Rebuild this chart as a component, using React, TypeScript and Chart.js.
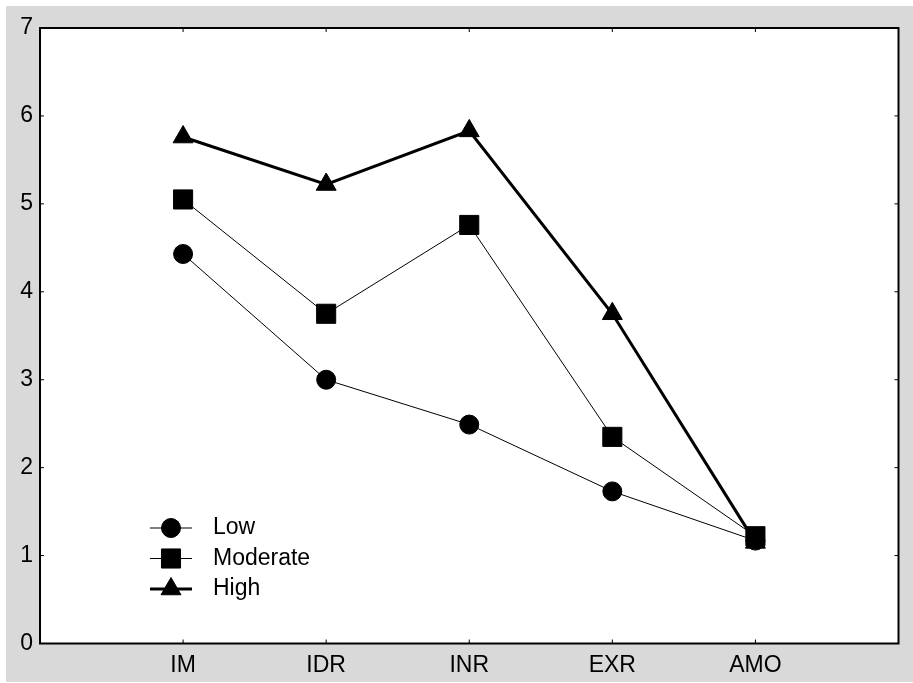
import React, { useEffect, useRef } from 'react';
import { Chart, registerables } from 'chart.js';

Chart.register(...registerables);

const categories = ['IM', 'IDR', 'INR', 'EXR', 'AMO'];
const seriesNames = ['Low', 'Moderate', 'High'];
const lowValues = [4.43, 3.0, 2.49, 1.73, 1.17];
const moderateValues = [5.05, 3.75, 4.76, 2.35, 1.22];
const highValues = [5.76, 5.22, 5.83, 3.75, 1.15];
const yTickValues = [0, 1, 2, 3, 4, 5, 6, 7];

const FONT = '"Liberation Sans", Arial, Helvetica, sans-serif';

function drawMarker(ctx: CanvasRenderingContext2D, style: string, x: number, y: number, r: number) {
  ctx.beginPath();
  if (style === 'circle') {
    ctx.arc(x, y, r, 0, Math.PI * 2);
  } else if (style === 'rect') {
    const s = Math.SQRT1_2 * r;
    ctx.rect(x - s, y - s, 2 * s, 2 * s);
  } else {
    let rad = 0;
    ctx.moveTo(x + Math.sin(rad) * r, y - Math.cos(rad) * r);
    rad += (2 * Math.PI) / 3;
    ctx.lineTo(x + Math.sin(rad) * r, y - Math.cos(rad) * r);
    rad += (2 * Math.PI) / 3;
    ctx.lineTo(x + Math.sin(rad) * r, y - Math.cos(rad) * r);
    ctx.closePath();
  }
  ctx.fill();
  ctx.stroke();
}

const framePlugin = {
  id: 'frame',
  beforeDraw(chart: any) {
    const { ctx, chartArea: a } = chart;
    ctx.save();
    ctx.fillStyle = '#ffffff';
    ctx.fillRect(a.left, a.top, a.right - a.left, a.bottom - a.top);
    ctx.restore();
  },
  afterDatasetsDraw(chart: any) {
    const { ctx, chartArea: a } = chart;
    const xs = chart.scales.x;
    const ys = chart.scales.y;
    ctx.save();
    ctx.strokeStyle = '#000';
    ctx.lineWidth = 1;
    const tl = 4;
    categories.forEach((_, i) => {
      const px = xs.getPixelForValue(i + 1);
      ctx.beginPath();
      ctx.moveTo(px, a.bottom);
      ctx.lineTo(px, a.bottom - tl);
      ctx.moveTo(px, a.top);
      ctx.lineTo(px, a.top + tl);
      ctx.stroke();
    });
    yTickValues.forEach((v) => {
      const py = ys.getPixelForValue(v);
      ctx.beginPath();
      ctx.moveTo(a.left, py);
      ctx.lineTo(a.left + tl, py);
      ctx.moveTo(a.right, py);
      ctx.lineTo(a.right - tl, py);
      ctx.stroke();
    });
    ctx.lineWidth = 2;
    ctx.strokeRect(a.left, a.top, a.right - a.left, a.bottom - a.top);

    // legend
    const rowsFromBottom = [115.5, 85, 54.5];
    chart.data.datasets.forEach((ds: any, i: number) => {
      const y = a.bottom - rowsFromBottom[i];
      const cx = a.left + 131;
      ctx.strokeStyle = '#000';
      ctx.fillStyle = '#000';
      ctx.lineWidth = ds.borderWidth;
      ctx.beginPath();
      ctx.moveTo(a.left + 110, y);
      ctx.lineTo(a.left + 152, y);
      ctx.stroke();
      ctx.lineWidth = 1;
      drawMarker(ctx, ds.pointStyle, cx, y, ds.pointRadius);
      ctx.font = '23px ' + FONT;
      ctx.textAlign = 'left';
      ctx.textBaseline = 'middle';
      ctx.fillText(ds.label, a.left + 173, y);
    });
    ctx.restore();
  },
};

export default function App() {
  const canvasRef = useRef<HTMLCanvasElement | null>(null);

  useEffect(() => {
    if (!canvasRef.current) return;
    const seriesValues = [lowValues, moderateValues, highValues];
    const styles = ['circle', 'rect', 'triangle'];
    const radii = [9.5, 13.5, 11.5];
    const widths = [1, 1, 3];
    const orders = [1, 0, 2];
    const chart = new Chart(canvasRef.current, {
      type: 'line',
      data: {
        datasets: seriesNames.map((name, si) => ({
          label: name,
          data: categories.map((_, i) => ({ x: i + 1, y: seriesValues[si][i] })),
          borderColor: '#000',
          backgroundColor: '#000',
          borderWidth: widths[si],
          pointStyle: styles[si],
          pointRadius: radii[si],
          pointBorderWidth: 1,
          pointBackgroundColor: '#000',
          pointBorderColor: '#000',
          tension: 0,
          fill: false,
          order: orders[si],
          clip: false,
        })),
      },
      options: {
        responsive: false,
        animation: false,
        devicePixelRatio: 1,
        layout: { padding: { top: 22, right: 7, left: 0, bottom: 0 } },
        plugins: {
          legend: { display: false },
          tooltip: { enabled: false },
        },
        scales: {
          x: {
            type: 'linear',
            min: 0,
            max: 6,
            afterFit: (s: any) => {
              s.height = 38.5;
            },
            grid: { display: false, drawTicks: false },
            border: { display: false },
            ticks: {
              stepSize: 1,
              autoSkip: false,
              maxRotation: 0,
              padding: 8,
              color: '#000',
              font: { family: FONT, size: 23 },
              callback: (v: any) => categories[Number(v) - 1] ?? '',
            },
          },
          y: {
            type: 'linear',
            min: 0,
            max: 7,
            afterFit: (s: any) => {
              s.width = 34;
            },
            grid: { display: false, drawTicks: false },
            border: { display: false },
            ticks: {
              stepSize: 1,
              padding: 7,
              color: '#000',
              font: { family: FONT, size: 23 },
            },
          },
        },
      },
      plugins: [framePlugin],
    } as any);
    return () => chart.destroy();
  }, []);

  return (
    <div
      style={{
        position: 'absolute',
        left: 6,
        top: 6,
        width: 907,
        height: 676,
        background: '#d9d9d9',
      }}
    >
      <canvas ref={canvasRef} width={907} height={676} style={{ display: 'block' }} />
    </div>
  );
}
